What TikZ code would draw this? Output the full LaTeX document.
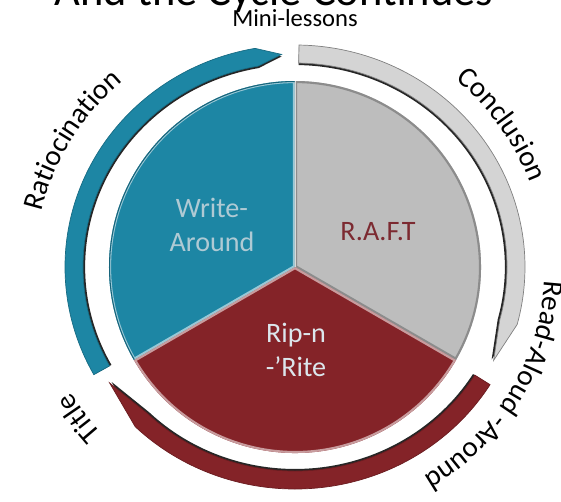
\documentclass[tikz,border=0pt]{standalone}
\usepackage{fontspec}
\setmainfont{Carlito}
\usepackage{tikz}
\usepackage{xcolor}
\usetikzlibrary{decorations.text}

\definecolor{cycleBlue}{HTML}{1D86A4}
\definecolor{cycleGray}{HTML}{BDBDBD}
\definecolor{cycleRing}{HTML}{D4D4D4}
\definecolor{cycleRed}{HTML}{842328}
\definecolor{writeText}{HTML}{AFCAD4}
\definecolor{raftText}{HTML}{7C2A31}
\definecolor{ripText}{HTML}{DCE6EC}

\newcommand{\ringFont}{\fontsize{16.5}{20}\selectfont}
\tikzstyle{headingText}=[font=\fontsize{25.3}{30}\selectfont, inner sep=0pt]
\tikzstyle{topText}=[font=\fontsize{14}{17}\selectfont, inner sep=0pt]
\tikzstyle{sliceText}=[font=\fontsize{16}{19.3}\selectfont, align=center]
\tikzstyle{ringText}=[decorate, decoration={text along path, text align=center}]
\tikzstyle{arrowShadow}=[fill=black!85, scale=0.99]

% one slice of the pie, centre at the origin
\newcommand{\slicepath}[2]{(0,0) -- (#1:186) arc[start angle=#1, end angle=#2, radius=186] -- cycle}
% ring arrow: tail angle, end of band, tip angle (clockwise)
\newcommand{\ringarrow}[3]{(#1:230 and 222) arc[start angle=#1, end angle=#2, x radius=230, y radius=222]
  -- (#3:221 and 213) -- (#2:212 and 204) arc[start angle=#2, end angle=#1, x radius=212, y radius=204] -- cycle}

\begin{document}
\begin{tikzpicture}[x=0.02cm, y=0.02cm]
  \useasboundingbox (-295,-234) rectangle (266,267);

  % Heading
  \node[headingText, anchor=base] (heading) at (-21,261) {And the Cycle Continues};
  \node[topText, anchor=base] (minilessons) at (0,240) {Mini-lessons};

  % Ring arrows
  \fill[arrowShadow] \ringarrow{209}{100}{93.5};
  \fill[cycleBlue, draw=cycleBlue!80!black, thin] \ringarrow{209}{100}{93.5};
  \fill[arrowShadow] \ringarrow{89}{-15}{-26};
  \fill[cycleRing, draw=black!50, thin] \ringarrow{89}{-15}{-26};
  \fill[arrowShadow] \ringarrow{-32}{-134}{-147};
  \fill[cycleRed, draw=cycleRed!80!black, thin] \ringarrow{-32}{-134}{-147};

  % Pie slices
  \fill[cycleBlue] \slicepath{90}{210};
  \fill[cycleGray] \slicepath{-30}{90};
  \fill[cycleRed] \slicepath{210}{330};
  \begin{scope}
    \clip \slicepath{90}{210};
    \draw[line width=2.4pt, cycleBlue!45!white] \slicepath{90}{210};
    \draw[line width=1.2pt, cycleBlue!75!black] (0,0) circle[radius=186];
  \end{scope}
  \begin{scope}
    \clip \slicepath{-30}{90};
    \draw[line width=2.4pt, black!45] \slicepath{-30}{90};
    \draw[line width=1pt, black!15] (0,0) -- (90:186);
  \end{scope}
  \begin{scope}
    \clip \slicepath{210}{330};
    \draw[line width=2.4pt, cycleRed!45!white] \slicepath{210}{330};
  \end{scope}

  % Slice labels
  \node[sliceText, text=writeText] (writearound) at (-83,42) {Write-\\Around};
  \node[sliceText, text=raftText] (raft) at (83,35) {R.A.F.T};
  \node[sliceText, text=ripText] (ripnrite) at (1,-83) {Rip-n\\-’Rite};

  % Ring labels
  \path[ringText, decoration={text={|\ringFont|Ratiocination}}]
    (178:260 and 248) arc[start angle=178, end angle=121, x radius=260, y radius=248];
  \path[ringText, decoration={text={|\ringFont|Conclusion}}]
    (62:250 and 244) arc[start angle=62, end angle=8, x radius=250, y radius=244];
  \path[ringText, decoration={text={|\ringFont|Read-Aloud -Around}}]
    (10:250 and 244) arc[start angle=10, end angle=-72, x radius=250, y radius=244];
  \path[ringText, decoration={text={|\ringFont|Title}}]
    (235:258 and 252) arc[start angle=235, end angle=196, x radius=258, y radius=252];
\end{tikzpicture}
\end{document}
